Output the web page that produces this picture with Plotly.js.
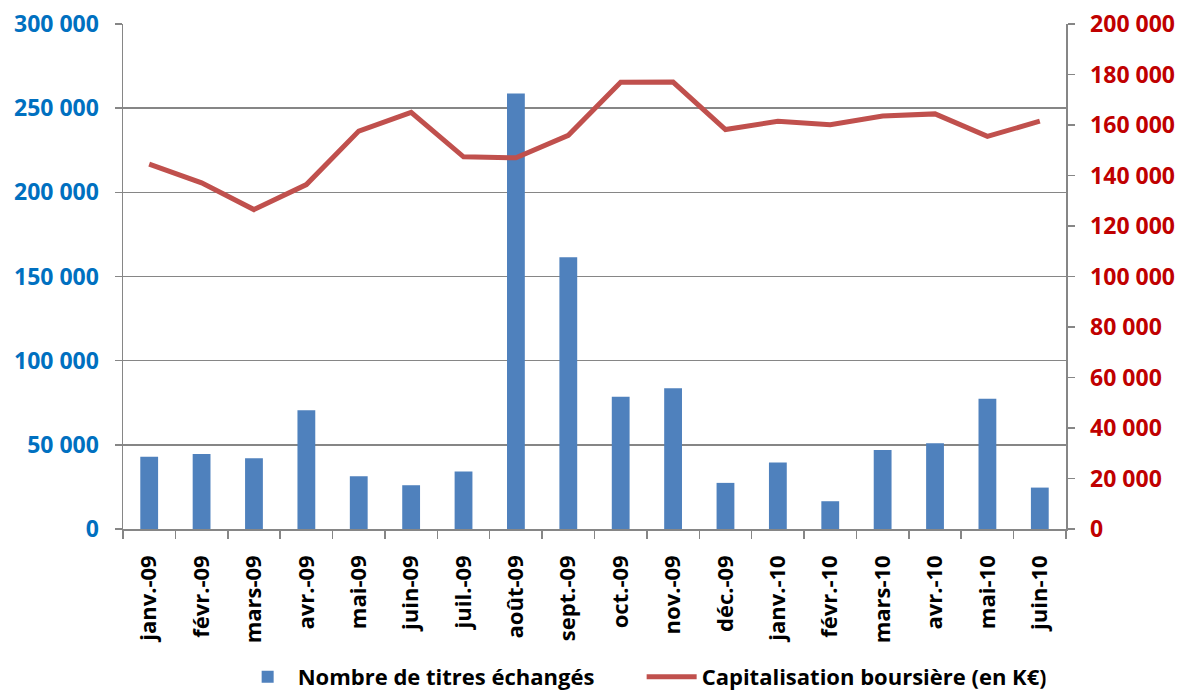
<!DOCTYPE html>
<html>
<head>
<meta charset="utf-8">
<script src="https://cdn.plot.ly/plotly-3.0.1.min.js"></script>
<style>
  html, body { margin: 0; padding: 0; background: #fff; }
  #chart { width: 1183px; height: 690px; }
</style>
</head>
<body>
<div id="chart"></div>
<script>
// months (French labels as on the chart)
const months = [
  "janv.-09", "févr.-09", "mars-09", "avr.-09", "mai-09", "juin-09",
  "juil.-09", "août-09", "sept.-09", "oct.-09", "nov.-09", "déc.-09",
  "janv.-10", "févr.-10", "mars-10", "avr.-10", "mai-10", "juin-10",
];

// number of shares traded (left axis)
const titresEchanges = [
  42900, 44500, 42100, 70600, 31400, 26000, 34200, 258700, 161500,
  78600, 83600, 27400, 39500, 16500, 46900, 51000, 77400, 24600,
];

// market cap in K€ (right axis)
const capitalisation = [
  144500, 137100, 126500, 136400, 157600, 165000, 147400, 147000, 155900,
  176900, 177000, 158200, 161500, 160100, 163600, 164400, 155500, 161500,
];

const bars = {
  type: "bar",
  name: "Nombre de titres échangés",
  x: months,
  y: titresEchanges,
  marker: { color: "#4F81BD" },
  yaxis: "y",
};

const line = {
  type: "scatter",
  mode: "lines",
  name: "Capitalisation boursière (en K€)",
  x: months,
  y: capitalisation,
  line: { color: "#C0504D", width: 5 },
  yaxis: "y2",
};

const font = "'Open Sans', 'Liberation Sans', sans-serif";
const gridGrey = "#868686";

const layout = {
  width: 1183,
  height: 690,
  margin: { l: 123, r: 117, t: 24, b: 161, autoexpand: false },
  paper_bgcolor: "#ffffff",
  plot_bgcolor: "#ffffff",
  separators: ", ",
  bargap: 0.66,
  showlegend: true,
  legend: {
    orientation: "h",
    x: 0.55,
    xanchor: "center",
    y: -0.293,
    yanchor: "middle",
    font: { family: font, size: 22, color: "#000000", weight: "bold" },
    itemwidth: 50,
    entrywidth: 339,
  },
  xaxis: {
    type: "category",
    automargin: false,
    tickangle: -90,
    tickson: "boundaries",
    ticks: "outside",
    ticklen: 8,
    tickwidth: 1.5,
    tickcolor: gridGrey,
    ticklabelstandoff: 16,
    showline: true,
    linecolor: gridGrey,
    linewidth: 1.5,
    showgrid: false,
    tickfont: { family: font, size: 22, color: "#000000", weight: "bold" },
  },
  yaxis: {
    automargin: false,
    range: [0, 300000],
    dtick: 50000,
    tickformat: ",d",
    ticks: "outside",
    ticklen: 7,
    tickwidth: 1.5,
    tickcolor: gridGrey,
    ticklabelstandoff: 11,
    showline: true,
    linecolor: gridGrey,
    linewidth: 1.5,
    showgrid: true,
    gridcolor: gridGrey,
    gridwidth: 1.5,
    zeroline: false,
    tickfont: { family: font, size: 23, color: "#0070C0", weight: "bold" },
  },
  yaxis2: {
    automargin: false,
    overlaying: "y",
    side: "right",
    range: [0, 200000],
    dtick: 20000,
    tickformat: ",d",
    ticks: "outside",
    ticklen: 7,
    tickwidth: 1.5,
    tickcolor: gridGrey,
    ticklabelstandoff: 11,
    showline: true,
    linecolor: gridGrey,
    linewidth: 1.5,
    showgrid: false,
    zeroline: false,
    tickfont: { family: font, size: 23, color: "#C00000", weight: "bold" },
  },
};

Plotly.newPlot("chart", [bars, line], layout, { displayModeBar: false, staticPlot: true });
</script>
</body>
</html>
